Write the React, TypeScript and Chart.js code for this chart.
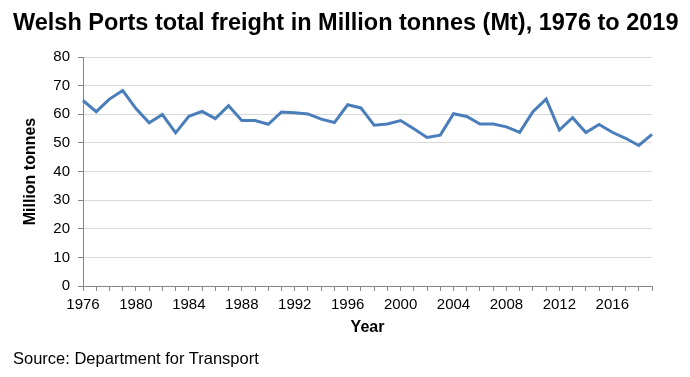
import React, { useEffect, useRef } from "react";
import { Chart, registerables } from "chart.js";

Chart.register(...registerables);

const years: string[] = [
  "1976", "1977", "1978", "1979", "1980", "1981", "1982", "1983", "1984", "1985",
  "1986", "1987", "1988", "1989", "1990", "1991", "1992", "1993", "1994", "1995",
  "1996", "1997", "1998", "1999", "2000", "2001", "2002", "2003", "2004", "2005",
  "2006", "2007", "2008", "2009", "2010", "2011", "2012", "2013", "2014", "2015",
  "2016", "2017", "2018", "2019",
];

const freight: number[] = [
  64.8, 60.9, 65.3, 68.3, 62.0, 57.0, 59.9, 53.5, 59.3, 61.0,
  58.5, 63.0, 57.8, 57.8, 56.5, 60.8, 60.5, 60.1, 58.3, 57.1,
  63.3, 62.2, 56.2, 56.6, 57.8, 54.9, 51.9, 52.7, 60.2, 59.2,
  56.6, 56.6, 55.6, 53.7, 60.9, 65.3, 54.5, 58.8, 53.6, 56.4,
  53.7, 51.6, 49.1, 53.0,
];

const yTicks: number[] = [0, 10, 20, 30, 40, 50, 60, 70, 80];
const xLabelStep = 4;

const titleText = "Welsh Ports total freight in Million tonnes (Mt), 1976 to 2019";
const sourceText = "Source: Department for Transport";
const yTitle = "Million tonnes";
const xTitle = "Year";

const FONT = "'Liberation Sans', Arial, Helvetica, sans-serif";

export default function App() {
  const ref = useRef<HTMLCanvasElement | null>(null);

  useEffect(() => {
    if (!ref.current) return;
    const chart = new Chart(ref.current, {
      type: "line",
      data: {
        labels: years,
        datasets: [
          {
            data: freight,
            borderColor: "#4a7ebb",
            backgroundColor: "#4a7ebb",
            borderWidth: 3,
            pointRadius: 0,
            tension: 0,
            fill: false,
          },
        ],
      },
      options: {
        animation: false,
        responsive: false,
        devicePixelRatio: 1,
        layout: { padding: { top: 57, right: 38, bottom: 0, left: 0 } },
        plugins: {
          legend: { display: false },
          title: { display: false },
          tooltip: { enabled: false },
        },
        scales: {
          x: {
            type: "category",
            offset: false,
            grid: {
              drawOnChartArea: false,
              drawTicks: true,
              tickLength: 5,
              tickColor: "#868686",
            },
            border: { color: "#868686", width: 1 },
            ticks: {
              autoSkip: false,
              maxRotation: 0,
              minRotation: 0,
              padding: 5,
              color: "#000",
              font: { family: FONT, size: 15 },
              callback: (_v: any, i: number) =>
                i % xLabelStep === 0 ? years[i] : "",
            },
            title: {
              display: true,
              text: xTitle,
              color: "#000",
              font: { family: FONT, size: 16, weight: "bold" },
              padding: { top: 0, bottom: 40 },
            },
            afterFit: (scale: any) => {
              scale.height = 91;
            },
          },
          y: {
            min: 0,
            max: 80,
            afterBuildTicks: (scale: any) => {
              scale.ticks = yTicks.map((v) => ({ value: v }));
            },
            grid: {
              color: "#d9d9d9",
              lineWidth: 1,
              drawTicks: true,
              tickLength: 5,
              tickColor: "#868686",
            },
            border: { color: "#868686", width: 1 },
            ticks: {
              padding: 8,
              color: "#000",
              font: { family: FONT, size: 15 },
            },
            title: {
              display: true,
              text: yTitle,
              color: "#000",
              font: { family: FONT, size: 16, weight: "bold" },
              padding: { top: 21, bottom: 0 },
            },
            afterFit: (scale: any) => {
              scale.width = 83;
            },
          },
        },
      },
    });
    return () => chart.destroy();
  }, []);

  return (
    <div
      style={{
        position: "fixed",
        left: 0,
        top: 0,
        width: 690,
        height: 377,
        background: "#fff",
        fontFamily: FONT,
      }}
    >
      <canvas ref={ref} width={690} height={377} style={{ position: "absolute", left: 0, top: 0 }} />
      <div
        style={{
          position: "absolute",
          left: 13,
          top: 11,
          fontSize: 23.5,
          lineHeight: "23.5px",
          fontWeight: "bold",
          whiteSpace: "nowrap",
          color: "#000",
        }}
      >
        {titleText}
      </div>
      <div
        style={{
          position: "absolute",
          left: 13,
          top: 350,
          fontSize: 16.5,
          lineHeight: "16.5px",
          whiteSpace: "nowrap",
          color: "#000",
        }}
      >
        {sourceText}
      </div>
    </div>
  );
}
